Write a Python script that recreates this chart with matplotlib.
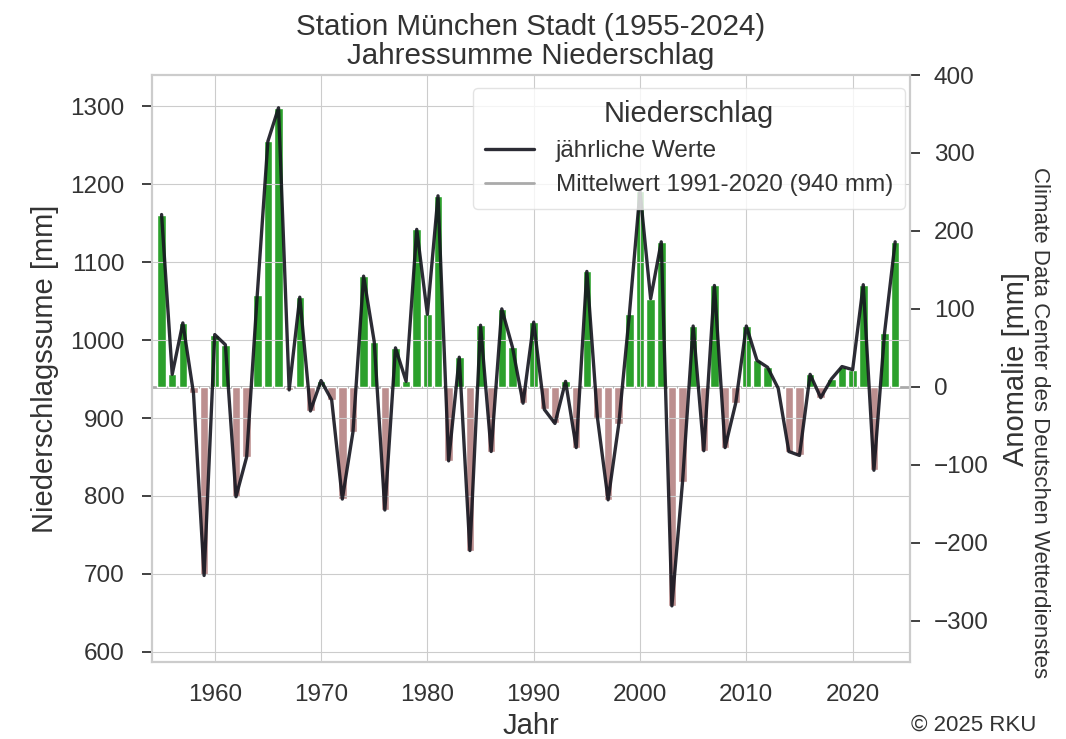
import matplotlib
matplotlib.use("Agg")
import matplotlib.pyplot as plt
import seaborn as sns
import numpy as np

years = list(range(1955, 2025))
precip = [1161, 956, 1022, 932, 698, 1007, 994, 799, 850, 1058,
          1255, 1298, 936, 1055, 909, 948, 923, 796, 882, 1082,
          998, 782, 990, 947, 1142, 1033, 1185, 845, 978, 730,
          1019, 857, 1040, 991, 919, 1023, 911, 893, 947, 862,
          1088, 900, 795, 892, 1033, 1191, 1053, 1126, 659, 818,
          1018, 858, 1070, 862, 919, 1018, 974, 965, 938, 857,
          852, 956, 926, 950, 966, 962, 1071, 833, 1009, 1126]
mean_ref = 940

sns.set_style("whitegrid")
plt.rcParams['font.family'] = ['Liberation Sans', 'DejaVu Sans']
plt.rcParams['text.color'] = '#333333'
plt.rcParams['axes.labelcolor'] = '#333333'
plt.rcParams['xtick.color'] = '#333333'
plt.rcParams['ytick.color'] = '#333333'

yrs = np.array(years)
vals = np.array(precip)
anom = vals - mean_ref

fig = plt.figure(figsize=(10.66, 7.39), dpi=100)
ax = fig.add_axes([0.1426, 0.1042, 0.7111, 0.7943])
ax2 = ax.twinx()

# mean line + anomaly bars on the right axis
mline = ax2.axhline(0, color='#aaaaaa', lw=2, zorder=0,
                    label='Mittelwert 1991-2020 (940 mm)')
cols = np.where(anom >= 0, '#2ca02c', '#bc8f8f')
ax2.bar(yrs, anom, width=0.8, color=cols, zorder=1)
ax2.grid(False)

ax.set_zorder(ax2.get_zorder() + 1)
ax.patch.set_visible(False)
line, = ax.plot(yrs, vals, color='#15151f', lw=2.4, alpha=0.9,
                label='jährliche Werte')

ax.set_xlim(1954.1, 2025.4)
ax.set_ylim(587, 1340)
ax2.set_ylim(587 - mean_ref, 1340 - mean_ref)
ax.set_yticks(range(600, 1301, 100))
ax2.set_yticks(range(-300, 401, 100))
ax.set_xticks(range(1960, 2021, 10))

for a in (ax, ax2):
    a.tick_params(labelsize=17.5, length=7, width=1.3, color='#333333')
    for s in a.spines.values():
        s.set_color('#cccccc')
        s.set_linewidth(1.5)
ax.tick_params(axis='y', pad=13)
ax2.tick_params(axis='y', pad=10)
ax.tick_params(axis='x', length=0, pad=16)

ax.set_xlabel('Jahr', fontsize=21, labelpad=4)
ax.set_ylabel('Niederschlagssume [mm]', fontsize=21, labelpad=8)
ax2.set_ylabel('Anomalie [mm]', fontsize=21, labelpad=10)
ax.set_title('Station München Stadt (1955-2024)\nJahressumme Niederschlag',
             fontsize=21.3, linespacing=1.05, pad=8)

leg = ax.legend([line, mline], ['jährliche Werte', 'Mittelwert 1991-2020 (940 mm)'],
                title='Niederschlag', loc='upper right',
                fontsize=17.5, title_fontsize=21, frameon=True,
                handletextpad=0.9, borderpad=0.5,
                borderaxespad=0, bbox_to_anchor=(0.9934, 0.978))
leg.get_frame().set_edgecolor('#dddddd')

fig.text(0.9756, 0.428, 'Climate Data Center des Deutschen Wetterdienstes',
         rotation=270, ha='center', va='center', fontsize=16)
fig.text(0.913, 0.004, '© 2025 RKU', ha='center', va='bottom', fontsize=16)

fig.savefig('out.png', dpi=100)
